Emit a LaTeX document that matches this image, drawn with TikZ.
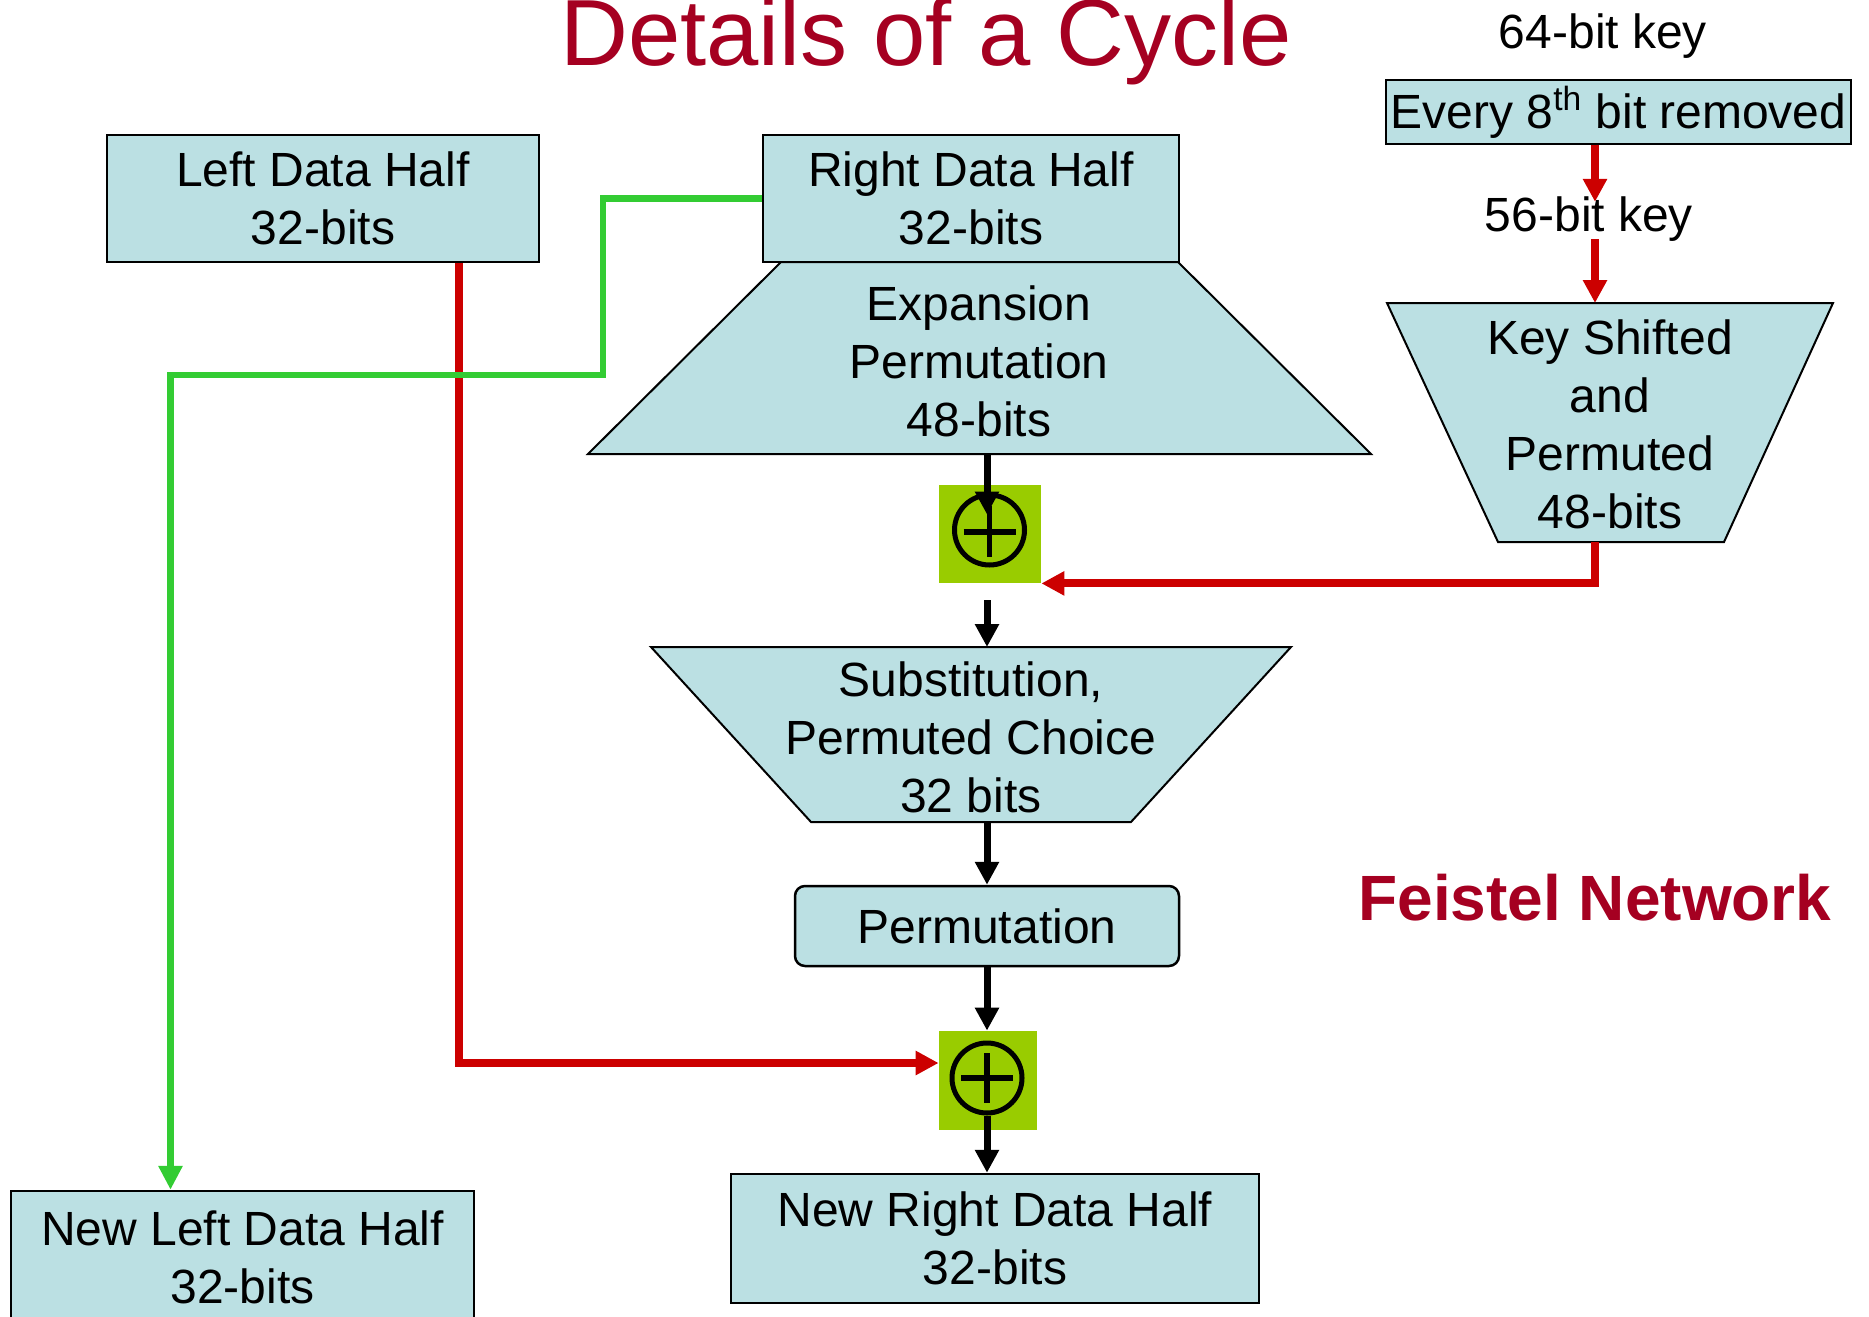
\documentclass[tikz,border=0pt]{standalone}
\usepackage{fontspec}
\setmainfont{Liberation Sans}
\usetikzlibrary{arrows.meta,calc}
\definecolor{boxblue}{RGB}{187,224,227}
\definecolor{xgreen}{RGB}{153,204,0}
\definecolor{lgreen}{RGB}{51,204,51}
\definecolor{kred}{RGB}{204,0,0}
\definecolor{tred}{RGB}{165,0,33}
\begin{document}
\begin{tikzpicture}[x=0.5pt,y=-0.5pt,
  box/.style={draw=black, line width=1.25pt, fill=boxblue, inner sep=0pt, align=center, font=\fontsize{24}{29}\selectfont},
  trap/.style={draw=black, line width=1pt, fill=boxblue},
  ttext/.style={align=center, inner sep=0pt, font=\fontsize{24}{29}\selectfont},
  xbox/.style={fill=xgreen, inner sep=0pt},
  xcirc/.style={circle, draw=black, line width=2.5pt, inner sep=0pt, minimum size=35pt},
  xplus/.style={draw=black, line width=2.75pt},
  barrow/.style={draw=black, line width=3.5pt, -{Triangle[width=11.5pt,length=11.5pt]}},
  rarrow/.style={draw=kred, line width=4pt, -{Triangle[width=11.5pt,length=11.5pt]}},
  garrow/.style={draw=lgreen, line width=3.25pt, -{Triangle[width=11.5pt,length=12pt]}},
]
\useasboundingbox (0,0) rectangle (1869,1317);

% title
\node[anchor=base, inner sep=0pt, text=tred, font=\fontsize{47}{56}\selectfont] (title) at (926,65) {Details of a Cycle};
\node[anchor=base, inner sep=0pt, text=tred, font=\fontsize{32}{38}\selectfont\bfseries] (feistel) at (1595,920) {Feistel Network};

% trapezoids
\draw[trap] (588,454) -- (781,262) -- (1178,262) -- (1371,454) -- cycle;
\node[ttext] (exptext) at (979,361.5) {Expansion\\Permutation\\48-bits};
\draw[trap] (651,647) -- (1291,647) -- (1131,822) -- (811,822) -- cycle;
\node[ttext] (subtext) at (971,737) {Substitution,\\Permuted Choice\\32 bits};
\draw[trap] (1387,303) -- (1833,303) -- (1724,542) -- (1498,542) -- cycle;
\node[ttext] (keytext) at (1610,424) {Key Shifted\\and\\Permuted\\48-bits};

% boxes
\node[box, minimum width=216pt, minimum height=63.5pt] (left) at (323,198.5) {Left Data Half\\32-bits};
\node[box, minimum width=208pt, minimum height=63.5pt] (right) at (971,198.5) {Right Data Half\\32-bits};
\node[box, rounded corners=5pt, minimum width=192pt, minimum height=40pt] (perm) at (987,926) {Permutation};
\node[box, minimum width=264pt, minimum height=64.5pt] (newright) at (995,1238.5) {New Right Data Half\\32-bits};
\node[box, minimum width=231.5pt, minimum height=66pt] (newleft) at (242.5,1257) {New Left Data Half\\32-bits};
\node[box, line width=1pt, minimum width=232.5pt, minimum height=32pt] (every) at (1618.5,112) {Every 8\textsuperscript{th} bit removed};

% key labels
\node[ttext, anchor=base] (key64) at (1603,48) {64-bit key};
\node[ttext, anchor=base] (key56) at (1589,231) {56-bit key};

% xor 1
\node[xbox, minimum width=51pt, minimum height=49pt] (xor1box) at (990,534) {};
\node[xcirc] (xor1) at (989.5,530) {};
\draw[xplus] ($(xor1)+(-26,2)$) -- ($(xor1)+(26,2)$);
\draw[xplus] ($(xor1)+(0,-24)$) -- ($(xor1)+(0,27)$);

% xor 2
\node[xbox, minimum width=49pt, minimum height=49.5pt] (xor2box) at (988,1080.5) {};
\node[xcirc] (xor2) at (987,1078) {};
\draw[xplus] ($(xor2)+(-26,0)$) -- ($(xor2)+(26,0)$);
\draw[xplus] ($(xor2)+(0,-25)$) -- ($(xor2)+(0,25)$);

% coordinates
\coordinate (dcol) at (987,0);
\coordinate (kcol) at (1595,0);
\coordinate (lcol) at (459,0);
\coordinate (expout) at (987,455);
\coordinate (subin) at (987,647);
\coordinate (subout) at (987,822);
\coordinate (keyin) at (1595,303);
\coordinate (keyout) at (1595,542);
\coordinate (g1) at (603,375);
\coordinate (g2) at (170.5,375);

% black flow
\draw[barrow] (expout) -- ($(xor1.north -| dcol)+(0,22)$);
\draw[barrow] ($(xor1box.south -| dcol)+(0,17)$) -- (subin);
\draw[barrow] (subout) -- (perm.north -| dcol);
\draw[barrow] (perm.south -| dcol) -- (xor2box.north -| dcol);
\draw[barrow] (xor2.south -| dcol) -- (newright.north -| dcol);

% key path
\draw[rarrow, shorten >=-3pt] (every.south -| kcol) -- (key56.north -| kcol);
\draw[rarrow] ($(key56.south -| kcol)+(0,-2)$) -- (keyin);
\draw[rarrow] (keyout) |- (xor1box.south east);

% left half to xor2
\draw[rarrow] (left.south -| lcol) |- ($(xor2box.west)+(0,-17.5)$);

% right half to new left
\draw[garrow] (right.west) -| (g1) -- (g2) -- (g2 |- newleft.north);
\end{tikzpicture}
\end{document}
